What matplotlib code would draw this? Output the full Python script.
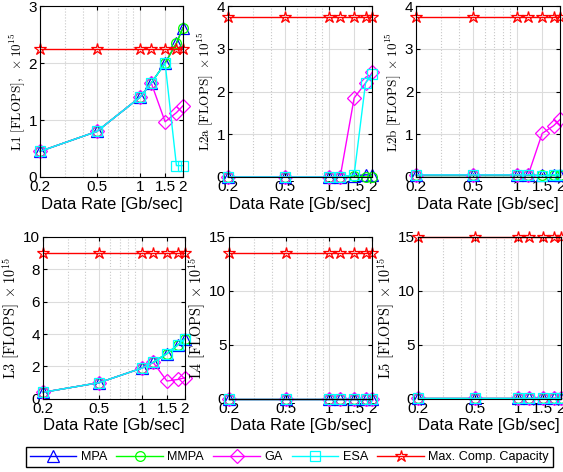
import matplotlib
matplotlib.use("Agg")
import matplotlib.pyplot as plt
from matplotlib.ticker import FixedLocator, NullFormatter

plt.rcParams['font.family'] = ['Liberation Sans', 'DejaVu Sans']
plt.rcParams['mathtext.fontset'] = 'cm'

rate = [0.2, 0.5, 1.0, 1.2, 1.5, 1.8, 2.0]

# L1
l1_mpa = [0.45, 0.80, 1.40, 1.65, 2.00, 2.35, 2.62]
l1_mmpa = [0.45, 0.80, 1.40, 1.65, 2.00, 2.35, 2.62]
l1_ga = [0.45, 0.80, 1.40, 1.65, 0.97, 1.13, 1.25]
l1_esa = [0.45, 0.80, 1.40, 1.65, 2.00, 0.20, 0.20]
l1_cap = [2.25] * 7

# L2a
l2a_mpa = [0.0, 0.0, 0.0, 0.0, 0.03, 0.05, 0.05]
l2a_mmpa = [0.0, 0.0, 0.0, 0.0, 0.03, 0.0, 0.0]
l2a_ga = [0.0, 0.0, 0.0, 0.0, 1.85, 2.20, 2.45]
l2a_esa = [0.0, 0.0, 0.0, 0.0, 0.05, 2.20, 2.40]
l2a_cap = [3.75] * 7

# L2b
l2b_mpa = [0.05, 0.05, 0.05, 0.05, 0.05, 0.05, 0.05]
l2b_mmpa = [0.05, 0.05, 0.05, 0.05, 0.05, 0.05, 0.05]
l2b_ga = [0.05, 0.05, 0.05, 0.05, 1.02, 1.20, 1.35]
l2b_esa = [0.05, 0.05, 0.05, 0.05, 0.03, 0.05, 0.05]
l2b_cap = [3.75] * 7

# L3
l3_mpa = [0.40, 1.00, 1.90, 2.25, 2.80, 3.35, 3.70]
l3_mmpa = [0.40, 1.00, 1.90, 2.25, 2.80, 3.35, 3.70]
l3_ga = [0.40, 1.00, 1.90, 2.25, 1.10, 1.20, 1.30]
l3_esa = [0.40, 1.00, 1.90, 2.25, 2.80, 3.35, 3.70]
l3_cap = [9.0] * 7

# L4
l4_mpa = [0.0] * 7
l4_mmpa = [0.0] * 7
l4_ga = [0.0] * 7
l4_esa = [0.0] * 7
l4_cap = [13.5] * 7

# L5
l5_mpa = [0.1] * 7
l5_mmpa = [0.1] * 7
l5_ga = [0.1] * 7
l5_esa = [0.1] * 7
l5_cap = [15.0] * 7

panels = [
    (r"$\mathrm{L1\ [FLOPS],\ \times 10^{15}}$", [0, 1, 2, 3], l1_mpa, l1_mmpa, l1_ga, l1_esa, l1_cap),
    (r"$\mathrm{L2a\ [FLOPS]\ \times 10^{15}}$", [0, 1, 2, 3, 4], l2a_mpa, l2a_mmpa, l2a_ga, l2a_esa, l2a_cap),
    (r"$\mathrm{L2b\ [FLOPS]\ \times 10^{15}}$", [0, 1, 2, 3, 4], l2b_mpa, l2b_mmpa, l2b_ga, l2b_esa, l2b_cap),
    (r"$\mathrm{L3\ [FLOPS]\ \times 10^{15}}$", [0, 2, 4, 6, 8, 10], l3_mpa, l3_mmpa, l3_ga, l3_esa, l3_cap),
    (r"$\mathrm{L4\ [FLOPS]\ \times 10^{15}}$", [0, 5, 10, 15], l4_mpa, l4_mmpa, l4_ga, l4_esa, l4_cap),
    (r"$\mathrm{L5\ [FLOPS]\ \times 10^{15}}$", [0, 5, 10, 15], l5_mpa, l5_mmpa, l5_ga, l5_esa, l5_cap),
]

# axes rectangles in figure fractions (left, bottom, width, height)
rects = [
    (0.071, 0.625, 0.254, 0.362),
    (0.405, 0.625, 0.256, 0.362),
    (0.739, 0.625, 0.256, 0.362),
    (0.076, 0.155, 0.252, 0.343),
    (0.407, 0.155, 0.254, 0.343),
    (0.742, 0.155, 0.254, 0.343),
]
ylab_sizes = [9.5, 9.5, 9.5, 10.3, 10.3, 10.3]

styles = [
    ("MPA", "blue", "^"),
    ("MMPA", "#00ff00", "o"),
    ("GA", "magenta", "D"),
    ("ESA", "cyan", "s"),
    ("Max. Comp. Capacity", "red", "*"),
]
msizes = [8, 7, 7, 7, 9]

fig = plt.figure(figsize=(5.63, 4.72), dpi=100)
handles = []
for rect, ysz, (ylab, yt, *series) in zip(rects, ylab_sizes, panels):
    ax = fig.add_axes(rect)
    for (lab, col, mk), ms, ys in zip(styles, msizes, series):
        h, = ax.plot(rate, ys, color=col, marker=mk, markersize=ms,
                     markerfacecolor='none', markeredgewidth=0.9,
                     linewidth=1.0, label=lab, clip_on=False)
        if len(handles) < 5:
            handles.append(h)
    ax.set_xscale('log')
    ax.set_xlim(0.2, 2)
    ax.set_ylim(yt[0], yt[-1])
    ax.xaxis.set_major_locator(FixedLocator([0.2, 0.5, 1, 1.5, 2]))
    ax.set_xticklabels(["0.2", "0.5", "1", "1.5", "2"])
    ax.xaxis.set_minor_locator(FixedLocator([0.3, 0.4, 0.6, 0.7, 0.8, 0.9]))
    ax.xaxis.set_minor_formatter(NullFormatter())
    ax.set_yticks(yt)
    ax.grid(True, which='major', color='#dcdcdc', linewidth=0.8)
    ax.grid(True, which='minor', axis='x', color='#c8c8c8', linestyle=':', linewidth=0.8)
    ax.set_axisbelow(True)
    ax.tick_params(which='both', direction='in', labelsize=11, length=3,
                   top=True, right=True, pad=2)
    ax.tick_params(which='minor', length=0)
    for s in ax.spines.values():
        s.set_linewidth(0.8)
    ax.set_xlabel("Data Rate [Gb/sec]", fontsize=12, labelpad=2)
    ax.set_ylabel(ylab, fontsize=ysz, labelpad=1)

fig.legend(handles=handles, loc='lower left', bbox_to_anchor=(0.046, 0.011), ncol=5,
           fontsize=9.1, frameon=True, fancybox=False, edgecolor='black',
           handlelength=3.7, handletextpad=0.35, columnspacing=0.72,
           borderpad=0.3, borderaxespad=0.0, framealpha=1)

fig.savefig("out.png", dpi=100)
